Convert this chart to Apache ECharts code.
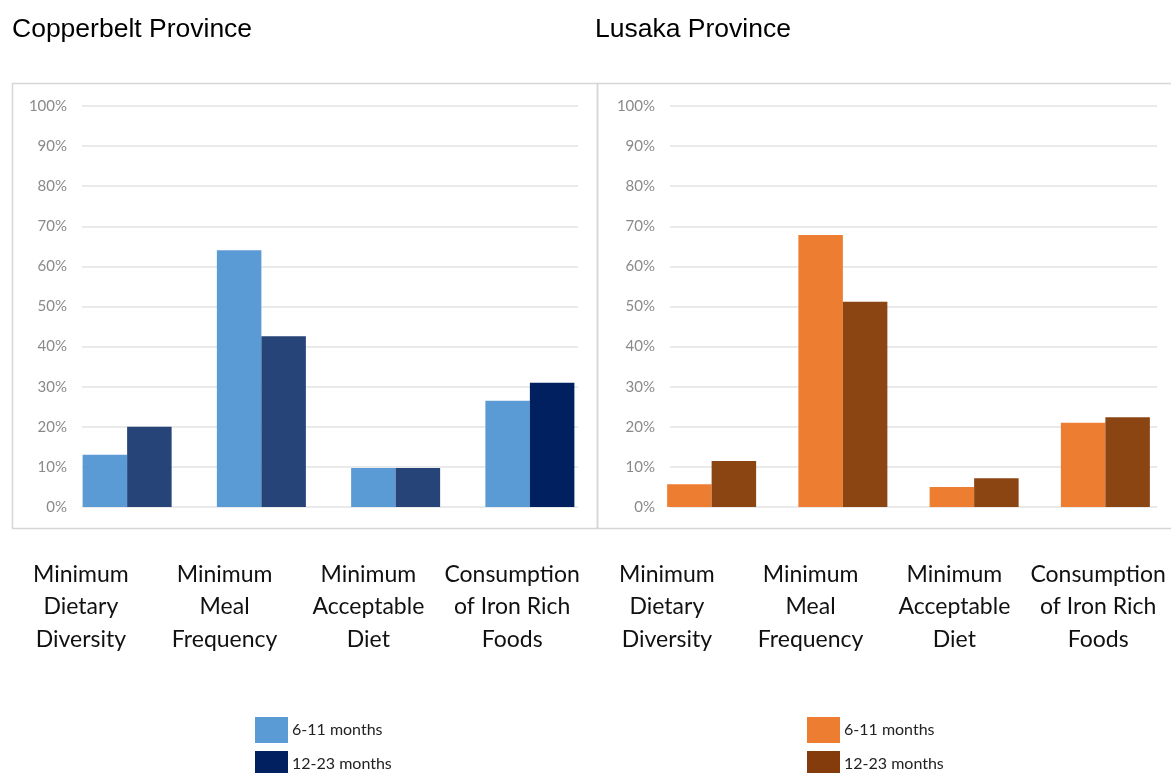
<!DOCTYPE html>
<html>
<head>
<meta charset="utf-8">
<script src="https://cdn.jsdelivr.net/npm/echarts@6/dist/echarts.min.js"></script>
<style>
  html, body { margin: 0; padding: 0; background: #fff; }
  #chart { width: 1171px; height: 773px; }
</style>
</head>
<body>
<div id="chart"></div>
<script>
// Infant and young child feeding indicators, by age group, for two provinces
const categories = [
  'Minimum\nDietary\nDiversity',
  'Minimum\nMeal\nFrequency',
  'Minimum\nAcceptable\nDiet',
  'Consumption\nof Iron Rich\nFoods'
];
const ageGroups = ['6-11 months', '12-23 months'];
const provinces = ['Copperbelt Province', 'Lusaka Province'];

// Shares of children (fraction of 1)
const copperbelt6to11 = [0.13, 0.64, 0.097, 0.265];
const copperbelt12to23 = [0.20, 0.426, 0.097, 0.31];
const lusaka6to11 = [0.057, 0.678, 0.05, 0.21];
const lusaka12to23 = [0.115, 0.512, 0.072, 0.224];

const yTicks = [0, 0.1, 0.2, 0.3, 0.4, 0.5, 0.6, 0.7, 0.8, 0.9, 1.0];

const blueLight = '#5B9BD5';
const blueDark = '#002060';
const blueMid = '#264478';
const orangeLight = '#ED7D31';
const orangeDark = '#843C0C';
const orangeBar = '#8B4513';

const chart = echarts.init(document.getElementById('chart'));

const pctFmt = v => Math.round(v * 100) + '%';
const tickFont = { fontFamily: 'Lato', fontSize: 15, color: '#8a8a8a' };
const catFont = { fontFamily: 'Lato', fontSize: 23, lineHeight: 32.5, color: '#111' };

// Panel layout: [gridline area, bar area, category label strip]
const panels = [
  { grid: { left: 82, width: 496 }, bars: { left: 60, width: 537 }, cats: { left: 9, width: 575 } },
  { grid: { left: 670, width: 487 }, bars: { left: 646, width: 537 }, cats: { left: 595, width: 575 } }
];

const grids = [], xAxes = [], yAxes = [];
panels.forEach((p, i) => {
  // gridlines + percentage labels
  grids.push({ left: p.grid.left, width: p.grid.width, top: 106, height: 401 });
  xAxes.push({ type: 'category', gridIndex: grids.length - 1, data: categories, show: false });
  yAxes.push({
    type: 'value', gridIndex: grids.length - 1, min: 0, max: yTicks[yTicks.length - 1], interval: 0.1,
    axisLine: { show: false }, axisTick: { show: false },
    axisLabel: Object.assign({ formatter: pctFmt, margin: 15 }, tickFont),
    splitLine: { lineStyle: { color: '#e3e3e3', width: 1.5 } }
  });
  // bars
  grids.push({ left: p.bars.left, width: p.bars.width, top: 106, height: 401 });
  xAxes.push({ type: 'category', gridIndex: grids.length - 1, data: categories, show: false });
  yAxes.push({ type: 'value', gridIndex: grids.length - 1, min: 0, max: 1, show: false });
  // category labels below the panel
  grids.push({ left: p.cats.left, width: p.cats.width, top: 540, height: 10 });
  xAxes.push({
    type: 'category', gridIndex: grids.length - 1, data: categories,
    axisLine: { show: false }, axisTick: { show: false },
    axisLabel: Object.assign({ margin: 8, interval: 0, align: 'center' }, catFont)
  });
  yAxes.push({ type: 'value', gridIndex: grids.length - 1, show: false });
});

const barBase = { type: 'bar', barWidth: 44.5, barGap: '0%' };

const series = [
  Object.assign({}, barBase, {
    name: ageGroups[0], xAxisIndex: 1, yAxisIndex: 1,
    itemStyle: { color: blueLight }, data: copperbelt6to11
  }),
  Object.assign({}, barBase, {
    name: ageGroups[1], xAxisIndex: 1, yAxisIndex: 1,
    itemStyle: { color: blueDark },
    data: copperbelt12to23.map((v, k) => k < 3 ? { value: v, itemStyle: { color: blueMid } } : v)
  }),
  Object.assign({}, barBase, {
    name: ageGroups[0], xAxisIndex: 4, yAxisIndex: 4,
    itemStyle: { color: orangeLight }, data: lusaka6to11
  }),
  Object.assign({}, barBase, {
    name: ageGroups[1], xAxisIndex: 4, yAxisIndex: 4,
    itemStyle: { color: orangeBar }, data: lusaka12to23
  })
];

// One legend entry per component so each swatch sits on its own row
function legendEntry(left, top, name, color) {
  return {
    left: left, top: top, itemWidth: 33, itemHeight: 26,
    selectedMode: false, icon: 'rect', padding: 0,
    textStyle: { fontFamily: 'Lato', fontSize: 16, color: '#222', padding: [2, 0, 0, -1] },
    data: [{ name: name, itemStyle: { color: color } }]
  };
}

const option = {
  animation: false,
  backgroundColor: '#fff',
  grid: grids,
  xAxis: xAxes,
  yAxis: yAxes,
  series: series,
  legend: [
    legendEntry(255, 717, ageGroups[0], blueLight),
    legendEntry(255, 751, ageGroups[1], blueDark),
    legendEntry(807, 717, ageGroups[0], orangeLight),
    legendEntry(807, 751, ageGroups[1], orangeDark)
  ],
  graphic: [
    { type: 'rect', shape: { x: 12.5, y: 83.5, width: 585, height: 445 }, style: { fill: 'none', stroke: '#d6d6d6', lineWidth: 1.5 }, z: -1 },
    { type: 'rect', shape: { x: 597.5, y: 83.5, width: 585, height: 445 }, style: { fill: 'none', stroke: '#d6d6d6', lineWidth: 1.5 }, z: -1 },
    { type: 'text', x: 12, y: 30, style: { text: provinces[0], font: '26.5px "Liberation Sans", Arial, sans-serif', fill: '#000', textVerticalAlign: 'middle' } },
    { type: 'text', x: 595, y: 30, style: { text: provinces[1], font: '26.5px "Liberation Sans", Arial, sans-serif', fill: '#000', textVerticalAlign: 'middle' } }
  ]
};

chart.setOption(option);
</script>
</body>
</html>
